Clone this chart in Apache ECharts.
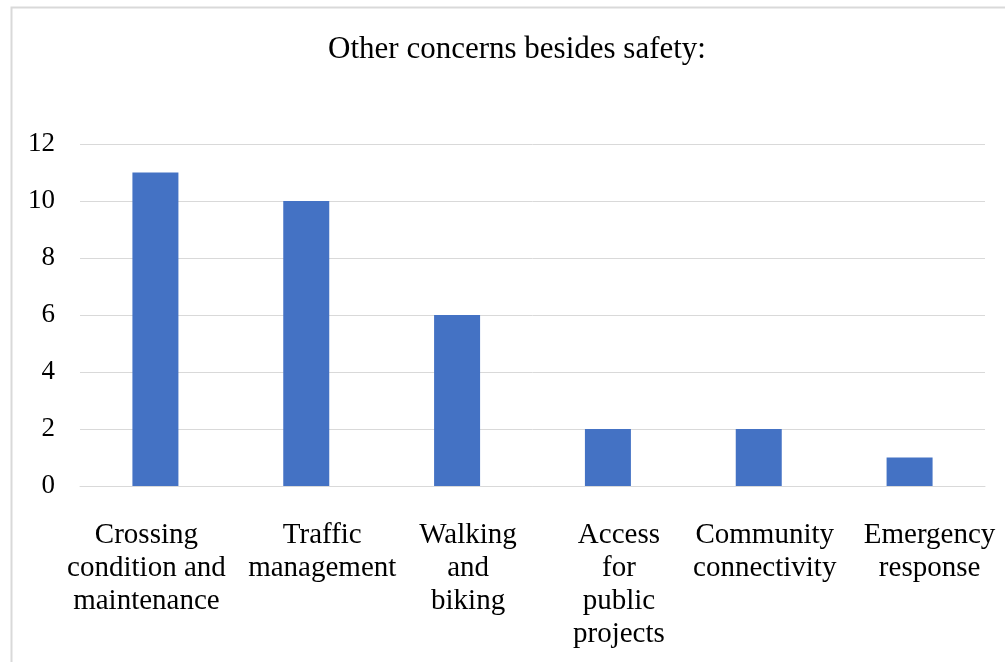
<!DOCTYPE html>
<html>
<head>
<meta charset="utf-8">
<script src="https://cdn.jsdelivr.net/npm/echarts@6/dist/echarts.min.js"></script>
<style>
  html, body { margin: 0; padding: 0; background: #fff; }
  #chart { width: 1005px; height: 662px; }
</style>
</head>
<body>
<div id="chart"></div>
<script>
// Survey responses: other concerns besides safety
const categories = [
  'Crossing\ncondition and\nmaintenance',
  'Traffic\nmanagement',
  'Walking\nand\nbiking',
  'Access\nfor\npublic\nprojects',
  'Community\nconnectivity',
  'Emergency\nresponse'
];
const counts = [11, 10, 6, 2, 2, 1];
const yTicks = { min: 0, max: 12, interval: 2 };

// horizontal nudge (px) of each category label relative to its bar
const labelShift = [-9, 16, 11, 11, 6, 20];

const serif = '"Liberation Serif", "Times New Roman", serif';
const labelFont = 29;
const labelLine = 33;

const richStyles = {};
labelShift.forEach(function (s, i) {
  richStyles['r' + i] = {
    fontFamily: serif, fontSize: labelFont, lineHeight: labelLine, color: '#000',
    padding: s >= 0 ? [0, 0, 0, 2 * s] : [0, -2 * s, 0, 0]
  };
});

const chart = echarts.init(document.getElementById('chart'), null, { renderer: 'canvas' });

chart.setOption({
  animation: false,
  backgroundColor: '#fff',
  title: {
    text: 'Other concerns besides safety:',
    left: 512,
    textAlign: 'center',
    top: 29,
    textStyle: { fontFamily: serif, fontSize: 31, fontWeight: 'normal', color: '#000' }
  },
  graphic: [{
    type: 'rect',
    shape: { x: 11.5, y: 7.5, width: 1100, height: 700 },
    style: { fill: 'none', stroke: '#d9d9d9', lineWidth: 2 },
    silent: true
  }],
  grid: { left: 80, right: 20, top: 144, bottom: 176, containLabel: false },
  xAxis: {
    type: 'category',
    data: categories,
    axisLine: { show: true, lineStyle: { color: '#d9d9d9', width: 1 } },
    axisTick: { show: false },
    axisLabel: {
      interval: 0,
      margin: 33,
      fontFamily: serif,
      fontSize: labelFont,
      lineHeight: labelLine,
      color: '#000',
      align: 'center',
      formatter: function (value, index) {
        return value.split('\n').map(function (l) { return '{r' + index + '|' + l + '}'; }).join('\n');
      },
      rich: richStyles
    }
  },
  yAxis: {
    type: 'value',
    min: yTicks.min,
    max: yTicks.max,
    interval: yTicks.interval,
    axisLine: { show: false },
    axisTick: { show: false },
    splitLine: { lineStyle: { color: '#d9d9d9', width: 1 } },
    axisLabel: { margin: 25, fontFamily: serif, fontSize: 27, color: '#000' }
  },
  series: [{
    type: 'bar',
    data: counts,
    barWidth: 46,
    itemStyle: { color: '#4472C4' }
  }]
});
</script>
</body>
</html>
